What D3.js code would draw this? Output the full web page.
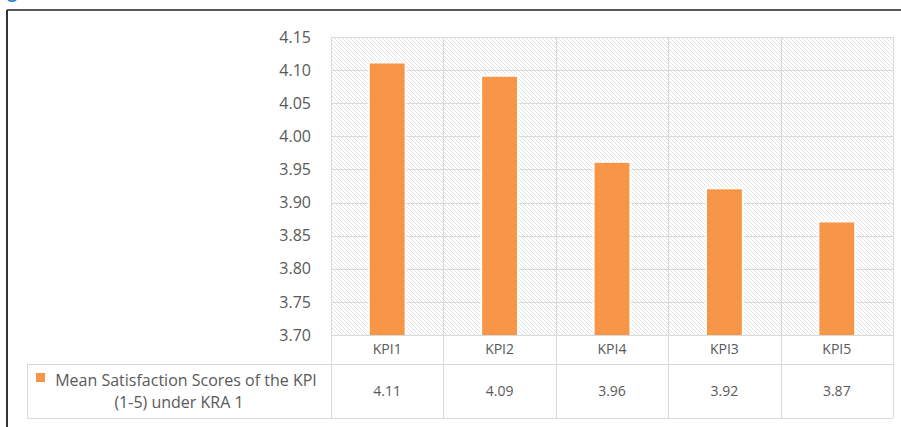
<!DOCTYPE html>
<html>
<head>
<meta charset="utf-8">
<script src="https://cdn.jsdelivr.net/npm/d3@7"></script>
<style>
  html, body { margin: 0; padding: 0; background: #fff; }
  svg { display: block; }
</style>
</head>
<body>
<svg id="chart" width="901" height="427"></svg>
<script>
// Mean satisfaction scores per KPI under KRA 1
const categories = ["KPI1", "KPI2", "KPI4", "KPI3", "KPI5"];
const scores = [4.11, 4.09, 3.96, 3.92, 3.87];
const yTicks = [3.70, 3.75, 3.80, 3.85, 3.90, 3.95, 4.00, 4.05, 4.10, 4.15];
const seriesName = ["Mean Satisfaction Scores of the KPI", "(1-5) under KRA 1"];

const svg = d3.select("#chart");
const font = "'Open Sans', sans-serif";
const textColor = "#595959";
const gridColor = "#d9d9d9";
const barColor = "#f79646";

const plot = { left: 331, right: 893, top: 37, bottom: 335 };
const catRowBottom = 364;
const tableBottom = 418;
const tableLeft = 27;

// Heading above the frame (only its descender shows)
svg.append("text")
  .attr("x", -7).attr("y", -2)
  .attr("font-family", font).attr("font-weight", "bold")
  .attr("font-size", 17).attr("fill", "#2e8bd6")
  .text("Figure");

// Outer frame
svg.append("line").attr("x1", 7).attr("x2", 901).attr("y1", 10).attr("y2", 10)
  .attr("stroke", "#222").attr("stroke-width", 1.6);
svg.append("line").attr("x1", 7).attr("x2", 7).attr("y1", 10).attr("y2", 427)
  .attr("stroke", "#333").attr("stroke-width", 2);

// Diagonal hatch fill for the plot area
const defs = svg.append("defs");
const pat = defs.append("pattern")
  .attr("id", "hatch").attr("patternUnits", "userSpaceOnUse")
  .attr("width", 4).attr("height", 4);
pat.append("rect").attr("width", 4).attr("height", 4).attr("fill", "#fff");
pat.append("path")
  .attr("d", "M0,0 L4,4 M-1,3 L1,5 M3,-1 L5,1")
  .attr("stroke", "#e0e0e0").attr("stroke-width", 0.9);

const x = d3.scaleBand()
  .domain(categories)
  .range([plot.left, plot.right])
  .paddingInner(0).paddingOuter(0);

const y = d3.scaleLinear()
  .domain([3.70, 4.15])
  .range([plot.bottom, plot.top]);

svg.append("rect")
  .attr("x", plot.left).attr("y", plot.top)
  .attr("width", plot.right - plot.left).attr("height", plot.bottom - plot.top)
  .attr("fill", "url(#hatch)");

// Horizontal gridlines
svg.append("g").selectAll("line").data(yTicks).join("line")
  .attr("x1", plot.left).attr("x2", plot.right)
  .attr("y1", d => Math.round(y(d)) + 0.5).attr("y2", d => Math.round(y(d)) + 0.5)
  .attr("stroke", gridColor).attr("stroke-width", 1);

// Vertical band separators running through plot and data table
const bounds = categories.map(c => x(c)).concat([plot.right]);
svg.append("g").selectAll("line").data(bounds).join("line")
  .attr("x1", d => Math.round(d) + 0.5).attr("x2", d => Math.round(d) + 0.5)
  .attr("y1", plot.top).attr("y2", tableBottom)
  .attr("stroke", gridColor).attr("stroke-width", 1);

// Data table horizontal rules and legend cell
[catRowBottom, tableBottom].forEach(yy => {
  svg.append("line")
    .attr("x1", tableLeft).attr("x2", plot.right)
    .attr("y1", yy + 0.5).attr("y2", yy + 0.5)
    .attr("stroke", gridColor).attr("stroke-width", 1);
});
svg.append("line")
  .attr("x1", tableLeft + 0.5).attr("x2", tableLeft + 0.5)
  .attr("y1", catRowBottom).attr("y2", tableBottom)
  .attr("stroke", gridColor).attr("stroke-width", 1);

// Y axis labels
const yAxis = d3.axisLeft(y).tickValues(yTicks).tickFormat(d3.format(".2f")).tickSize(0).tickPadding(20);
const ya = svg.append("g").attr("transform", `translate(${plot.left},0)`).call(yAxis);
ya.select(".domain").remove();
ya.selectAll("text")
  .attr("font-family", font).attr("font-size", 16).attr("fill", textColor);

// Bars with a thin white halo
const barW = x.bandwidth() * 0.31;
const bars = svg.append("g");
bars.selectAll("rect.halo").data(scores).join("rect")
  .attr("class", "halo")
  .attr("x", (d, i) => x(categories[i]) + (x.bandwidth() - barW) / 2 - 2)
  .attr("y", d => y(d) - 2)
  .attr("width", barW + 4)
  .attr("height", d => plot.bottom - y(d) + 2)
  .attr("fill", "#fff").attr("opacity", 0.8);
bars.selectAll("rect.bar").data(scores).join("rect")
  .attr("class", "bar")
  .attr("x", (d, i) => x(categories[i]) + (x.bandwidth() - barW) / 2)
  .attr("y", d => y(d))
  .attr("width", barW)
  .attr("height", d => plot.bottom - y(d))
  .attr("fill", barColor);

// Category labels
svg.append("g").selectAll("text").data(categories).join("text")
  .attr("x", d => x(d) + x.bandwidth() / 2)
  .attr("y", (plot.bottom + catRowBottom) / 2 + 1)
  .attr("text-anchor", "middle").attr("dominant-baseline", "middle")
  .attr("font-family", font).attr("font-size", 14).attr("fill", textColor)
  .text(d => d);

// Value row
svg.append("g").selectAll("text").data(scores).join("text")
  .attr("x", (d, i) => x(categories[i]) + x.bandwidth() / 2)
  .attr("y", (catRowBottom + tableBottom) / 2 + 1)
  .attr("text-anchor", "middle").attr("dominant-baseline", "middle")
  .attr("font-family", font).attr("font-size", 14).attr("fill", textColor)
  .text(d => d3.format(".2f")(d));

// Legend cell
const legendCx = (tableLeft + plot.left) / 2;
const lg = svg.append("text")
  .attr("font-family", font).attr("font-size", 16).attr("fill", textColor)
  .attr("text-anchor", "middle");
lg.append("tspan").attr("x", legendCx + 7).attr("y", 386).text(seriesName[0]);
lg.append("tspan").attr("x", legendCx).attr("y", 408).text(seriesName[1]);
svg.append("rect")
  .attr("x", 36).attr("y", 373).attr("width", 9).attr("height", 9)
  .attr("fill", barColor);
</script>
</body>
</html>
